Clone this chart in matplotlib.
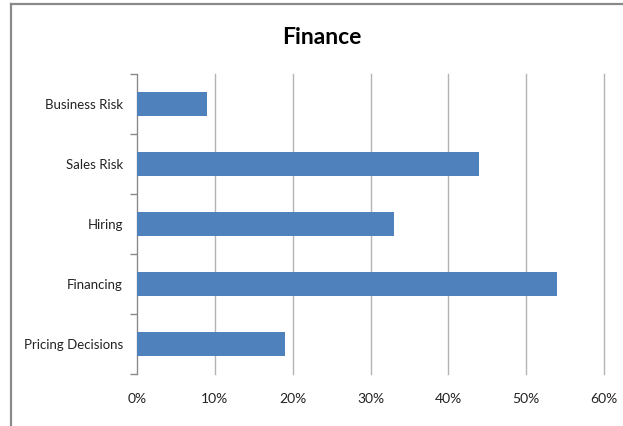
import matplotlib
matplotlib.use('Agg')
import matplotlib.pyplot as plt
from matplotlib.lines import Line2D
import numpy as np

# survey shares, listed top to bottom as shown
categories = ['Business Risk', 'Sales Risk', 'Hiring', 'Financing', 'Pricing Decisions']
values = [0.09, 0.44, 0.33, 0.54, 0.19]
xticks = [0, 0.1, 0.2, 0.3, 0.4, 0.5, 0.6]
xlabels = ['0%', '10%', '20%', '30%', '40%', '50%', '60%']

plt.rcParams['font.family'] = ['Lato', 'DejaVu Sans']

fig = plt.figure(figsize=(6.23, 4.26), dpi=100)
ax = fig.add_axes([137 / 623, 1 - 374 / 426, (604 - 137) / 623, (374 - 74) / 426])

y = np.arange(len(categories))[::-1]
ax.barh(y, values, height=0.4, color='#4f81bd', zorder=3)

ax.set_xlim(0, 0.6)
ax.set_ylim(-0.5, len(categories) - 0.5)
ax.set_xticks(xticks)
ax.set_xticklabels(xlabels, fontsize=10, color='#222222')
ax.tick_params(axis='x', length=0, pad=14)
ax.grid(axis='x', color='#b3b3b3', lw=1, zorder=0)
for gl in ax.get_xgridlines():
    gl.set_clip_on(False)

# category boundaries get the tick marks, centers get the labels
ax.set_yticks(np.arange(-0.5, len(categories), 1.0))
ax.set_yticklabels([])
ax.tick_params(axis='y', which='major', length=5, color='#888888', width=1)
ax.set_yticks(y, minor=True)
ax.set_yticklabels(categories, minor=True, fontsize=9.5, color='#222222')
ax.tick_params(axis='y', which='minor', length=0, pad=10)

for side in ['top', 'right', 'bottom']:
    ax.spines[side].set_visible(False)
ax.spines['left'].set_color('#888888')

fig.text(322 / 623, 1 - 37 / 426, 'Finance', ha='center', va='center',
         fontsize=16.5, fontweight='bold', color='black')

# frame edges along the top and left of the chart
fig.lines.append(Line2D([11 / 623, 1], [1 - 4 / 426] * 2, transform=fig.transFigure,
                        color='#8a8a8a', lw=1.6))
fig.lines.append(Line2D([11 / 623] * 2, [0, 1 - 4 / 426], transform=fig.transFigure,
                        color='#8a8a8a', lw=1.6))

fig.savefig('out.png', dpi=100)
